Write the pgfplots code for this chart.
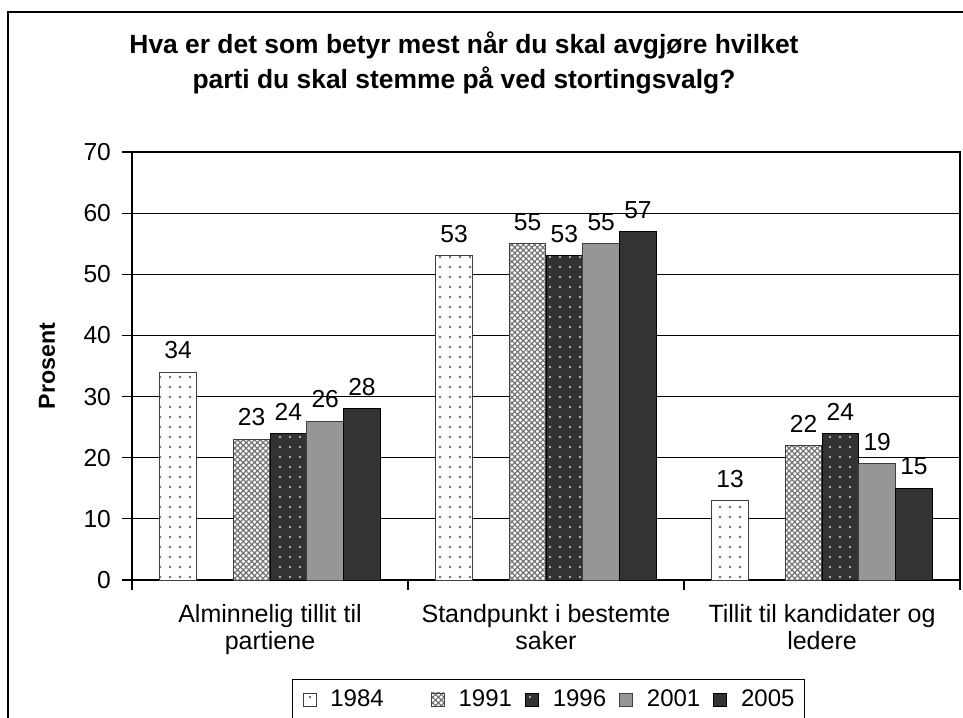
\documentclass[border=0pt]{standalone}
\usepackage{fontspec}
\setmainfont{Liberation Sans}
\usepackage{pgfplots}
\pgfplotsset{compat=1.18}
\usetikzlibrary{patterns.meta}
\definecolor{dk}{RGB}{51,51,51}
\definecolor{md}{RGB}{150,150,150}
\pgfkeys{/pgf/number format/assume math mode=true}
\begin{document}
\begin{tikzpicture}
\begin{axis}[
  at={(0pt,0pt)}, anchor=south west,
  scale only axis, width=414pt, height=214pt,
  ybar, bar width=0.1333,
  xmin=-0.5, xmax=2.5, ymin=0, ymax=70,
  xtick={-0.5,0.5,1.5,2.5}, xticklabels={},
  extra x ticks={0,1,2},
  extra x tick labels={{Alminnelig tillit til\\partiene},{Standpunkt i bestemte\\saker},{Tillit til kandidater og\\ledere}},
  extra x tick style={major tick length=0pt, grid=none},
  ytick={0,10,...,70},
  tick pos=left,
  ymajorgrids, major grid style={black, line width=0.5pt},
  tick align=outside, major tick length=5pt,
  tick style={black, line width=0.6pt},
  axis line style={black, line width=0.7pt},
  xticklabel style={align=center, font=\fontsize{12.5}{13.5}\selectfont, yshift=-8.5pt},
  yticklabel style={font=\fontsize{12.3}{14}\selectfont, xshift=-2pt},
  ylabel={Prosent},
  every axis y label/.style={at={(axis description cs:-0.1027,0.5)}, rotate=90, anchor=center, font=\bfseries\fontsize{11.6}{13}\selectfont},
  nodes near coords,
  every node near coord/.append style={font=\fontsize{12.3}{14}\selectfont, black, yshift=3pt},
  legend image code/.code={\draw[#1, line width=0.4pt] (0pt,-3.25pt) rectangle (6.5pt,3.25pt);},
  legend columns=5,
  legend style={at={(axis description cs:0.1932,-0.2313)}, anchor=north west, draw=black, line width=0.6pt, font=\fontsize{12}{14}\selectfont, inner sep=5pt,
    nodes={inner sep=0pt},
    /tikz/every odd column/.append style={column sep=7pt},
    /tikz/every even column/.append style={column sep=6.5pt}},
]
\addplot[bar shift=-0.3333, draw=black!75, line width=0.5pt, fill=white,
  postaction={pattern={Dots[radius=0.65pt,distance=5pt]}, pattern color=gray!85!black}]
  coordinates {(0,34) (1,53) (2,13)};
\addlegendentry{\makebox[43.7pt][l]{1984}}
\addplot[bar shift=-0.0667, draw=black!75, line width=0.5pt, fill=white,
  postaction={pattern={Hatch[angle=45,distance=2pt,line width=0.6pt]}, pattern color=gray!90!black}]
  coordinates {(0,23) (1,55) (2,22)};
\addlegendentry{1991}
\addplot[bar shift=0.0667, draw=black, line width=0.5pt, fill=dk,
  postaction={pattern={Dots[radius=0.6pt,distance=5pt]}, pattern color=white!85!black}]
  coordinates {(0,24) (1,53) (2,24)};
\addlegendentry{1996}
\addplot[bar shift=0.2, draw=black!75, line width=0.5pt, fill=md]
  coordinates {(0,26) (1,55) (2,19)};
\addlegendentry{2001}
\addplot[bar shift=0.3333, draw=black, line width=0.5pt, fill=dk]
  coordinates {(0,28) (1,57) (2,15)};
\addlegendentry{2005}
\end{axis}
\node[font=\bfseries\fontsize{13.2}{15}\selectfont, anchor=base] at (166pt,263pt) {Hva er det som betyr mest når du skal avgjøre hvilket};
\node[font=\bfseries\fontsize{13.2}{15}\selectfont, anchor=base] at (166pt,245.5pt) {parti du skal stemme på ved stortingsvalg?};
\draw[line width=1pt] (-62pt,-90pt) -- (-62pt,284pt) -- (430pt,284pt) -- (430pt,-90pt);
\pgfresetboundingbox
\useasboundingbox (-66pt,-68.5pt) rectangle (415.5pt,290pt);
\end{tikzpicture}
\end{document}
